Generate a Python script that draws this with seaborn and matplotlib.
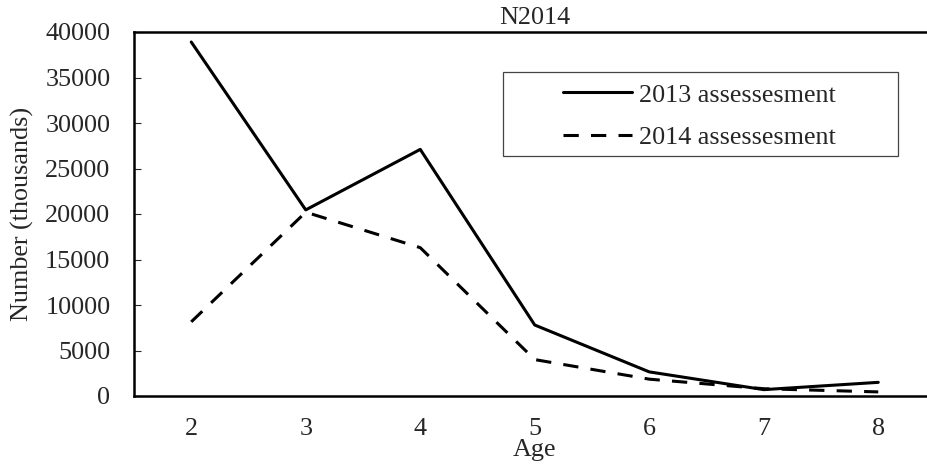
import numpy as np
import pandas as pd
import matplotlib
matplotlib.use('Agg')
import matplotlib.pyplot as plt
import seaborn as sns
from matplotlib.patches import Rectangle

# ─── Data
#
ages = [2, 3, 4, 5, 6, 7, 8]
n_2013 = [38900, 20450, 27100, 7800, 2650, 700, 1500]
n_2014 = [8150, 20200, 16300, 4000, 1850, 800, 450]
series_names = ['2013 assessesment', '2014 assessesment']

df = pd.DataFrame({
    'Age': ages * 2,
    'Number': n_2013 + n_2014,
    'Series': [series_names[0]] * len(ages) + [series_names[1]] * len(ages),
})

sns.set_style('white')
plt.rcParams['font.family'] = ['Liberation Serif', 'DejaVu Serif']
FS = 18.8

fig = plt.figure(figsize=(9.27, 4.67), dpi=100)
W, H = 927, 467
ax = fig.add_axes([134 / W, 1 - 396 / H, (935.5 - 134) / W, (396 - 32) / H])

sns.lineplot(data=df, x='Age', y='Number', hue='Series', style='Series',
             palette=['black', 'black'],
             dashes={series_names[0]: '', series_names[1]: (5, 4)},
             linewidth=2.2, ax=ax, legend=True)

ax.set_xlim(1.5, 8.5)
ax.set_ylim(0, 40000)
ax.set_xticks(ages)
ax.set_xticks(np.arange(2.5, 8.5, 1.0), minor=True)
ax.set_yticks(np.arange(0, 40001, 5000))
ax.tick_params(axis='x', which='major', length=0, pad=16, labelsize=FS)
ax.tick_params(axis='x', which='minor', direction='in', length=4.5, width=0.8, color='#555555')
ax.tick_params(axis='y', direction='in', length=5, width=0.8, pad=17, labelsize=FS, left=True)

for side in ['left', 'bottom', 'top']:
    ax.spines[side].set_linewidth(1.8)
    ax.spines[side].set_color('black')
ax.spines['right'].set_visible(False)

ax.set_xlabel('Age', fontsize=FS, labelpad=-1)
ax.set_ylabel('Number (thousands)', fontsize=FS, labelpad=8)
ax.set_title('N2014', fontsize=FS, pad=6)

leg = ax.legend(loc='center left', bbox_to_anchor=(563 / W, 1 - 116 / H),
                bbox_transform=fig.transFigure, frameon=False, fontsize=FS,
                borderpad=0, borderaxespad=0, handlelength=2.65,
                handletextpad=0.27, labelspacing=0.72)
for line in leg.get_lines():
    line.set_linewidth(2.2)

# legend frame drawn separately (wide side padding)
fig.patches.append(Rectangle((503 / W, 1 - 156 / H), (898 - 503) / W, (156 - 72) / H,
                             transform=fig.transFigure, fill=False,
                             edgecolor='#444444', linewidth=0.9))

plt.savefig('out.png', dpi=100)
plt.close(fig)
